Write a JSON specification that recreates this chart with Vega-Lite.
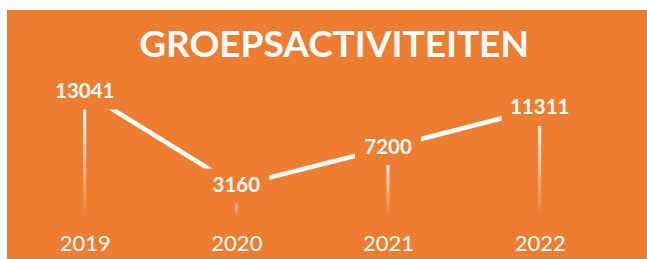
{
  "$schema": "https://vega.github.io/schema/vega-lite/v6.json",
  "width": 640,
  "height": 249,
  "autosize": {"type": "none"},
  "padding": {"left": 7, "top": 10, "right": 0, "bottom": 0},
  "background": "#ffffff",
  "config": {"view": {"fill": "#ED7D31", "stroke": null}, "font": "Lato"},
  "title": {
    "text": "GROEPSACTIVITEITEN",
    "font": "Lato",
    "fontSize": 37,
    "fontWeight": "bold",
    "color": "#ffffff",
    "anchor": "middle",
    "baseline": "alphabetic",
    "offset": -84,
    "dx": 7,
    "frame": "group"
  },
  "data": {
    "values": [
      {"year": "2019", "value": 13041},
      {"year": "2020", "value": 3160},
      {"year": "2021", "value": 7200},
      {"year": "2022", "value": 11311}
    ]
  },
  "encoding": {
    "x": {
      "field": "year",
      "type": "ordinal",
      "scale": {"type": "point", "padding": 0.61, "align": 0.42},
      "axis": {
        "title": null,
        "domain": false,
        "ticks": false,
        "grid": false,
        "labelColor": "#ffffff",
        "labelFontSize": 22,
        "labelFont": "Lato",
        "labelAngle": 0,
        "labelBaseline": "alphabetic",
        "labelPadding": 2,
        "offset": -11
      }
    },
    "y": {
      "field": "value",
      "type": "quantitative",
      "scale": {"domain": [-4521, 21661], "nice": false, "zero": false},
      "axis": null
    }
  },
  "layer": [
    {
      "mark": {
        "type": "bar",
        "width": 3,
        "fill": {
          "gradient": "linear",
          "x1": 0, "y1": 0, "x2": 0, "y2": 1,
          "stops": [
            {"offset": 0, "color": "#ffffff"},
            {"offset": 0.15, "color": "#ffffff"},
            {"offset": 1, "color": "#ED7D31"}
          ]
        }
      },
      "encoding": {"y2": {"datum": 0}}
    },
    {
      "mark": {"type": "line", "color": "#ffffff", "strokeWidth": 4.5}
    },
    {
      "mark": {"type": "point", "filled": true, "color": "#ED7D31", "opacity": 1, "size": 5776, "strokeWidth": 0},
      "encoding": {
        "shape": {
          "condition": {"test": "datum.value > 10000", "value": "M-1,-0.46H1V0.46H-1Z"},
          "value": "M-0.87,-0.46H0.87V0.46H-0.87Z"
        }
      }
    },
    {
      "mark": {"type": "text", "color": "#ffffff", "fontWeight": "bold", "fontSize": 20.5, "font": "Lato", "baseline": "middle"},
      "encoding": {"text": {"field": "value", "type": "quantitative", "format": "d"}}
    }
  ]
}
